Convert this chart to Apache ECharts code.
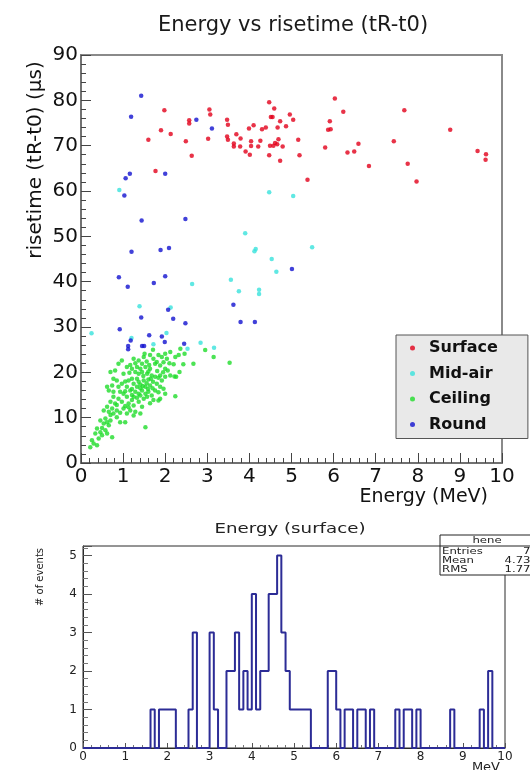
<!DOCTYPE html>
<html>
<head>
<meta charset="utf-8">
<script src="https://cdn.jsdelivr.net/npm/echarts@6/dist/echarts.min.js"></script>
<style>
  html, body { margin: 0; padding: 0; background: #fff; }
  #chart { width: 530px; height: 770px; }
</style>
</head>
<body>
<div id="chart"></div>
<script>
// Event samples: [energy (MeV), risetime tR-t0 (µs)]
const surface = [
  [1.98,77.8],[1.60,71.3],[1.90,73.4],[2.13,72.6],[1.77,64.4],[2.49,71.0],[2.57,75.6],[2.57,74.9],
  [2.63,67.8],[3.05,78.0],[3.07,76.9],[3.02,71.5],[3.47,75.7],[3.49,74.6],[3.47,72.0],[3.49,71.3],
  [3.63,70.5],[3.63,69.8],[3.69,72.5],[3.79,71.6],[3.78,69.8],[3.91,68.7],[4.01,68.0],[3.99,73.8],
  [4.10,74.5],[4.04,71.0],[4.04,69.9],[4.21,69.8],[4.26,71.1],[4.30,73.6],[4.39,74.0],[4.47,79.6],
  [4.59,78.2],[4.51,76.3],[4.55,76.3],[4.73,75.4],[4.87,74.3],[4.96,76.9],[5.04,75.7],[4.67,74.0],
  [4.47,67.9],[4.49,70.0],[4.57,70.0],[4.61,70.6],[4.66,70.3],[4.69,71.4],[4.79,69.8],[4.73,66.7],
  [5.16,71.3],[5.19,67.9],[5.38,62.5],[6.03,80.4],[6.23,77.5],[5.91,75.4],[5.87,73.5],[5.93,73.6],
  [5.80,69.6],[6.33,68.5],[6.49,68.7],[6.59,70.4],[6.84,65.5],[7.43,71.0],[7.68,77.8],[7.76,66.0],
  [7.97,62.1],[8.77,73.5],[9.42,68.8],[9.62,68.1],[9.61,66.9]
];

const midAir = [
  [0.91,60.2],[4.47,59.7],[5.04,58.9],[3.90,50.7],[4.12,46.7],[4.15,47.2],[4.53,45.0],[4.64,42.2],
  [3.56,40.4],[3.75,37.9],[4.23,38.2],[4.23,37.3],[2.64,39.5],[1.39,34.6],[2.13,34.3],[0.25,28.6],
  [1.20,27.6],[2.03,28.7],[1.72,26.2],[2.53,25.2],[2.84,26.5],[3.16,25.4],[5.49,47.6]
];

const ceiling = [
  [2.36,25.2],[2.46,24.1],[2.12,24.5],[2.00,24.1],[1.71,25.0],[1.51,24.1],[1.64,23.8],[2.95,24.9],
  [3.15,23.4],[2.67,21.9],[3.53,22.1],[1.49,23.4],[1.84,23.8],[1.92,23.4],[2.04,23.0],[2.24,23.4],
  [2.32,23.8],[0.97,22.6],[0.89,21.9],[1.25,23.0],[1.37,22.6],[1.72,23.0],[1.80,22.3],[2.20,21.8],
  [2.43,21.8],[2.26,19.0],[2.34,20.1],[1.09,21.2],[1.21,20.8],[1.33,21.2],[1.41,20.8],[1.53,21.2],
  [1.64,20.8],[1.88,21.5],[2.00,20.8],[2.06,20.4],[0.81,20.4],[0.70,20.1],[1.01,19.7],[1.29,20.1],
  [1.37,19.7],[1.45,20.1],[1.57,19.7],[1.68,19.3],[1.76,19.0],[1.88,19.3],[2.00,19.0],[2.12,19.3],
  [2.22,19.1],[0.77,18.6],[0.85,18.2],[0.97,17.5],[1.13,18.2],[1.21,18.6],[1.25,17.5],[1.37,17.9],
  [1.49,18.2],[1.60,18.4],[1.71,17.9],[1.80,17.5],[1.92,18.2],[0.74,17.1],[0.62,16.8],[0.89,16.8],
  [1.09,16.8],[1.33,16.8],[1.53,16.8],[1.64,17.1],[1.88,16.8],[1.96,16.4],[0.66,16.0],[0.77,15.7],
  [0.93,15.7],[1.01,15.3],[1.17,16.0],[1.29,15.7],[1.37,15.3],[1.45,16.0],[1.53,15.3],[1.60,15.7],
  [1.68,14.9],[1.76,16.0],[2.00,15.3],[2.24,14.7],[1.88,14.2],[0.77,14.6],[0.89,14.2],[1.09,14.6],
  [1.25,14.6],[1.41,14.9],[1.49,14.2],[1.64,13.2],[1.84,13.8],[0.70,13.5],[0.81,13.1],[0.97,13.5],
  [1.13,13.1],[1.25,12.7],[1.37,13.5],[1.45,12.4],[0.62,12.4],[0.74,12.0],[0.85,11.6],[1.01,12.0],
  [1.17,11.6],[1.29,11.3],[1.41,10.9],[1.09,10.9],[0.77,10.9],[0.66,11.3],[0.54,11.6],[0.46,9.4],
  [0.58,9.8],[0.70,9.4],[0.85,10.1],[0.93,9.0],[1.05,9.0],[1.25,10.5],[1.53,7.9],[0.54,8.7],
  [0.66,8.3],[0.38,7.6],[0.46,6.8],[0.34,6.5],[0.58,7.2],[0.74,5.7],[0.62,6.5],[0.26,5.0],
  [0.30,4.3],[0.22,3.5],[0.38,3.9],[0.42,5.4],[0.50,6.1],
  [1.17,21.6],[1.29,22.0],[1.45,21.9],[1.56,22.4],[1.62,21.6],[1.76,21.9],[1.96,22.2],[2.10,22.0],
  [1.15,19.9],[1.48,19.2],[1.60,20.2],[1.81,20.3],[1.95,20.0],[1.05,18.0],[1.33,18.6],[1.41,17.3],
  [1.56,17.6],[1.66,18.6],[1.84,18.8],[1.21,16.3],[1.41,16.5],[1.47,17.0],[1.59,16.3],[1.70,16.5],
  [1.84,15.6],[1.05,15.8],[1.21,15.0],[1.33,14.4],[1.57,14.6],[1.72,13.9],[0.85,12.8],[1.05,12.6],
  [1.21,13.9],[0.93,11.1],[1.13,12.3],[0.70,10.6],[0.62,9.0],[0.50,7.7]
];

const round = [
  [1.43,81.0],[1.19,76.4],[2.74,75.7],[3.11,73.8],[1.16,63.8],[1.06,62.8],[2.00,63.8],[1.03,59.0],
  [1.44,53.5],[2.48,53.8],[1.20,46.6],[1.89,47.0],[2.09,47.4],[0.90,41.0],[1.11,38.9],[1.73,39.7],
  [2.00,41.2],[1.43,32.1],[2.07,33.8],[2.19,31.8],[2.48,30.8],[0.92,29.5],[1.62,28.2],[1.92,27.9],
  [1.18,27.0],[1.99,26.7],[1.12,25.8],[1.12,25.1],[1.45,25.8],[1.50,25.8],[2.45,26.3],[3.62,34.9],
  [3.79,31.1],[4.13,31.1],[5.01,42.8]
];

// Surface-energy histogram: 100 bins of 0.1 MeV from 0 to 10
const binLow = 0;
const binWidth = 0.1;
const surfaceCounts = [
  0,0,0,0,0,0,0,0,0,0,
  0,0,0,0,0,0,1,0,1,1,
  1,1,0,0,0,1,3,0,0,0,
  3,1,0,0,2,2,3,1,2,1,
  4,1,2,2,4,4,5,3,2,1,
  1,1,1,1,0,0,0,0,2,2,
  1,0,1,1,0,1,1,0,1,0,
  0,0,0,0,1,0,1,1,0,1,
  0,0,0,0,0,0,0,1,0,0,
  0,0,0,0,1,0,2,0,0,0
];

const statNames = ['Entries', 'Mean', 'RMS'];
const statValues = ['74', '4.733', '1.774'];

const xTicks = [0,1,2,3,4,5,6,7,8,9,10];

// Step outline of the histogram built from the bin edges
const histLine = surfaceCounts.map((c, i) => [binLow + i * binWidth, c]);
histLine.push([binLow + surfaceCounts.length * binWidth, 0]);

const SANS = '"DejaVu Sans", Verdana, sans-serif';
const colors = { surface: '#e2001a', midAir: '#38e2dc', ceiling: '#1fdc2a', round: '#1212cf' };

const chart = echarts.init(document.getElementById('chart'), null, { renderer: 'canvas' });

const axisCommon = {
  type: 'value',
  splitLine: { show: false },
  axisLine: { show: true, lineStyle: { color: '#6a6a6a', width: 1.5 } },
};

const centered = { align: 'center', verticalAlign: 'middle', textAlign: 'center', textVerticalAlign: 'middle' };

const option = {
  animation: false,
  backgroundColor: '#ffffff',
  title: {
    text: 'Energy vs risetime (tR-t0)',
    left: 288, top: 10, textAlign: 'center',
    textStyle: { fontFamily: SANS, fontSize: 21, fontWeight: 'normal', color: '#1a1a1a' }
  },
  legend: {
    data: ['Surface', 'Mid-air', 'Ceiling', 'Round'],
    orient: 'vertical',
    left: 396, top: 335,
    backgroundColor: '#e9e9e9',
    borderColor: '#555', borderWidth: 1,
    padding: [3, 30, 4, 14],
    itemWidth: 5, itemHeight: 5, itemGap: 5.5,
    icon: 'circle',
    selectedMode: false,
    textStyle: { fontFamily: SANS, fontSize: 16, fontWeight: 'bold', color: '#111', lineHeight: 20, padding: [0, 0, 0, 9] }
  },
  grid: [
    { left: 81, top: 55, width: 421, height: 408, show: true, borderColor: '#8a8a8a', borderWidth: 2, backgroundColor: 'transparent' },
    { left: 83, top: 546, width: 422, height: 202, show: true, borderColor: '#2a2a2a', borderWidth: 1, backgroundColor: 'transparent' }
  ],
  xAxis: [
    Object.assign({}, axisCommon, {
      gridIndex: 0, min: 0, max: 10, interval: 1,
      axisTick: { inside: true, length: 10, lineStyle: { color: '#444' } },
      minorTick: { show: true, splitNumber: 5, length: 5, lineStyle: { color: '#444' } },
      axisLabel: { fontFamily: SANS, fontSize: 20, color: '#111', margin: 4,
        formatter: v => xTicks.includes(v) ? String(v) : '' }
    }),
    Object.assign({}, axisCommon, {
      gridIndex: 1, min: 0, max: 10, interval: 1,
      axisLine: { show: true, lineStyle: { color: '#2a2a2a', width: 1 } },
      axisTick: { inside: true, length: 5, lineStyle: { color: '#555' } },
      minorTick: { show: true, splitNumber: 5, length: 3, lineStyle: { color: '#777' } },
      axisLabel: { fontFamily: SANS, fontSize: 12, color: '#222', margin: 3 }
    })
  ],
  yAxis: [
    Object.assign({}, axisCommon, {
      gridIndex: 0, min: 0, max: 90, interval: 10,
      axisTick: { inside: true, length: 10, lineStyle: { color: '#444' } },
      minorTick: { show: true, splitNumber: 5, length: 5, lineStyle: { color: '#444' } },
      axisLabel: { fontFamily: SANS, fontSize: 20, color: '#111', margin: 3 }
    }),
    Object.assign({}, axisCommon, {
      gridIndex: 1, min: 0, max: 5.25, interval: 1,
      axisLine: { show: true, lineStyle: { color: '#2a2a2a', width: 1 } },
      axisTick: { inside: true, length: 9, lineStyle: { color: '#555' } },
      minorTick: { show: true, splitNumber: 5, length: 5, lineStyle: { color: '#777' } },
      axisLabel: { fontFamily: SANS, fontSize: 12, color: '#222', margin: 6, showMaxLabel: false,
        formatter: v => Number.isInteger(v) ? String(v) : '' }
    })
  ],
  series: [
    { name: 'Surface', type: 'scatter', xAxisIndex: 0, yAxisIndex: 0, data: surface,
      symbol: 'circle', symbolSize: 4.5, itemStyle: { color: colors.surface } },
    { name: 'Mid-air', type: 'scatter', xAxisIndex: 0, yAxisIndex: 0, data: midAir,
      symbol: 'circle', symbolSize: 4.5, itemStyle: { color: colors.midAir } },
    { name: 'Ceiling', type: 'scatter', xAxisIndex: 0, yAxisIndex: 0, data: ceiling,
      symbol: 'circle', symbolSize: 4.5, itemStyle: { color: colors.ceiling } },
    { name: 'Round', type: 'scatter', xAxisIndex: 0, yAxisIndex: 0, data: round,
      symbol: 'circle', symbolSize: 4.5, itemStyle: { color: colors.round } },
    { name: 'hene', type: 'line', xAxisIndex: 1, yAxisIndex: 1, data: histLine,
      step: 'end', showSymbol: false, symbol: 'none',
      lineStyle: { color: '#2c2c96', width: 2 } }
  ],
  graphic: { elements: [
    { type: 'text', x: 36, y: 160, rotation: Math.PI / 2,
      style: Object.assign({ text: 'risetime (tR-t0) (µs)', font: '20px ' + SANS, fill: '#111' }, centered) },
    { type: 'text', x: 488, y: 497,
      style: { text: 'Energy (MeV)', font: '19px ' + SANS, fill: '#111', align: 'right', verticalAlign: 'middle', textAlign: 'right', textVerticalAlign: 'middle' } },
    { type: 'text', x: 290, y: 529, scaleX: 1.3,
      style: Object.assign({ text: 'Energy (surface)', font: '14px ' + SANS, fill: '#222' }, centered) },
    { type: 'text', x: 40, y: 577, rotation: Math.PI / 2,
      style: Object.assign({ text: '# of events', font: '10px ' + SANS, fill: '#222' }, centered) },
    { type: 'text', x: 500, y: 761,
      style: { text: 'MeV', font: '13px ' + SANS, fill: '#222', align: 'right', verticalAlign: 'top', textAlign: 'right', textVerticalAlign: 'top' } },
    // statistics box
    { type: 'rect', shape: { x: 440, y: 535, width: 120, height: 40 }, style: { fill: '#fff', stroke: '#222', lineWidth: 1 }, z: 10 },
    { type: 'line', shape: { x1: 440, y1: 546, x2: 560, y2: 546 }, style: { stroke: '#222', lineWidth: 1 }, z: 10 },
    { type: 'text', x: 487, y: 540.5, z: 11, scaleX: 1.3,
      style: Object.assign({ text: 'hene', font: '9px ' + SANS, fill: '#222' }, centered) },
    ...statNames.map((n, i) => ({ type: 'text', x: 442, y: 552 + i * 9, z: 11, scaleX: 1.3,
      style: { text: n, font: '9px ' + SANS, fill: '#222', align: 'left', verticalAlign: 'middle', textAlign: 'left', textVerticalAlign: 'middle' } })),
    ...statValues.map((v, i) => ({ type: 'text', x: 538, y: 552 + i * 9, z: 11, scaleX: 1.3,
      style: { text: v, font: '9px ' + SANS, fill: '#222', align: 'right', verticalAlign: 'middle', textAlign: 'right', textVerticalAlign: 'middle' } }))
  ] }
};

chart.setOption(option);
</script>
</body>
</html>
